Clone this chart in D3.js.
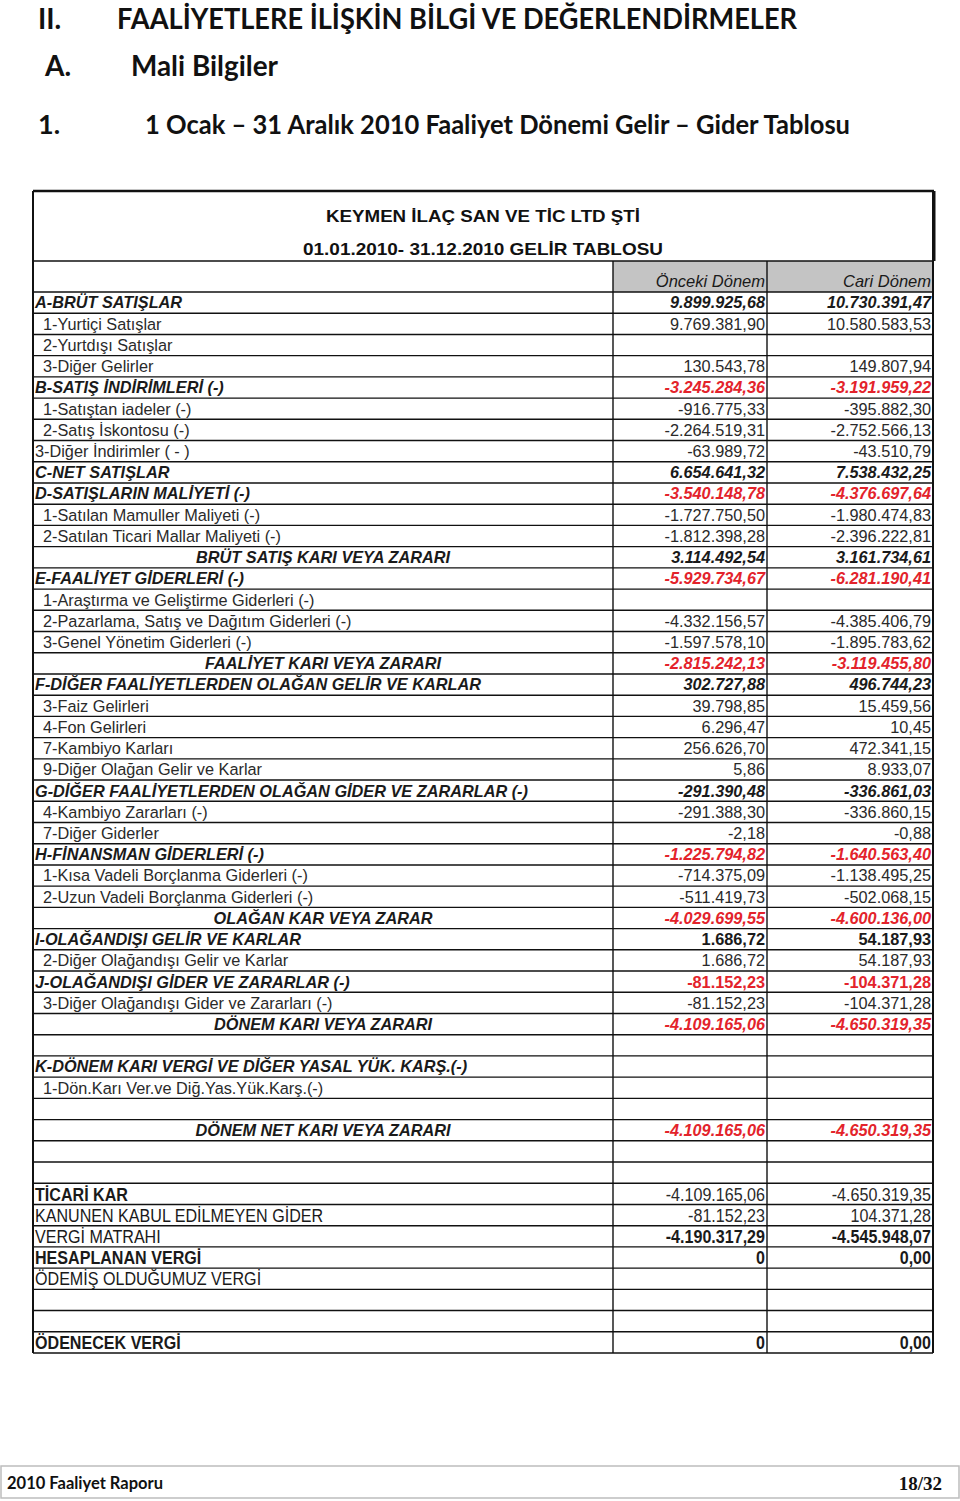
<!DOCTYPE html>
<html>
<head>
<meta charset="utf-8">
<script src="https://cdn.jsdelivr.net/npm/d3@7"></script>
<style>
  body { margin: 0; background: #fff; }
  svg { display: block; }
</style>
</head>
<body>
<div id="page"></div>
<script>
const FRAME_WIDTH = 960;
const FRAME_HEIGHT = 1501;

// table rows (label column)
const LABELS = [
  "A-BRÜT SATIŞLAR", "1-Yurtiçi Satışlar", "2-Yurtdışı Satışlar", "3-Diğer Gelirler",
  "B-SATIŞ İNDİRİMLERİ (-)", "1-Satıştan iadeler (-)", "2-Satış İskontosu (-)", "3-Diğer İndirimler ( - )",
  "C-NET SATIŞLAR", "D-SATIŞLARIN MALİYETİ (-)", "1-Satılan Mamuller Maliyeti (-)",
  "2-Satılan Ticari Mallar Maliyeti (-)", "BRÜT SATIŞ KARI VEYA ZARARI", "E-FAALİYET GİDERLERİ (-)",
  "1-Araştırma ve Geliştirme Giderleri (-)", "2-Pazarlama, Satış ve Dağıtım Giderleri (-)",
  "3-Genel Yönetim Giderleri (-)", "FAALİYET KARI VEYA ZARARI",
  "F-DİĞER FAALİYETLERDEN OLAĞAN GELİR VE KARLAR", "3-Faiz Gelirleri", "4-Fon Gelirleri",
  "7-Kambiyo Karları", "9-Diğer Olağan Gelir ve Karlar",
  "G-DİĞER FAALİYETLERDEN OLAĞAN GİDER VE ZARARLAR (-)", "4-Kambiyo Zararları (-)", "7-Diğer Giderler",
  "H-FİNANSMAN GİDERLERİ (-)", "1-Kısa Vadeli Borçlanma Giderleri (-)",
  "2-Uzun Vadeli Borçlanma Giderleri (-)", "OLAĞAN KAR VEYA ZARAR", "I-OLAĞANDIŞI GELİR VE KARLAR",
  "2-Diğer Olağandışı Gelir ve Karlar", "J-OLAĞANDIŞI GİDER VE ZARARLAR (-)",
  "3-Diğer Olağandışı Gider ve Zararları (-)", "DÖNEM KARI VEYA ZARARI", "",
  "K-DÖNEM KARI VERGİ VE DİĞER YASAL YÜK. KARŞ.(-)", "1-Dön.Karı Ver.ve Diğ.Yas.Yük.Karş.(-)", "",
  "DÖNEM NET KARI VEYA ZARARI", "", "",
  "TİCARİ KAR", "KANUNEN KABUL EDİLMEYEN GİDER", "VERGİ MATRAHI", "HESAPLANAN VERGİ",
  "ÖDEMİŞ OLDUĞUMUZ VERGİ", "", "", "ÖDENECEK VERGİ"
];

// s = section, i = indented item, n = item, t = centred total, e = empty, x = tax row, xb = bold tax row
const KINDS = [
  "s", "i", "i", "i", "s", "i", "i", "n", "s", "s", "i", "i", "t", "s", "i", "i", "i", "t",
  "s", "i", "i", "i", "i", "s", "i", "i", "s", "i", "i", "t", "s", "i", "s", "i", "t", "e",
  "s", "i", "e", "t", "e", "e", "xb", "x", "x", "xb", "x", "e", "e", "xb"
];

const ONCEKI = [
  "9.899.925,68", "9.769.381,90", "", "130.543,78", "-3.245.284,36", "-916.775,33", "-2.264.519,31",
  "-63.989,72", "6.654.641,32", "-3.540.148,78", "-1.727.750,50", "-1.812.398,28", "3.114.492,54",
  "-5.929.734,67", "", "-4.332.156,57", "-1.597.578,10", "-2.815.242,13", "302.727,88", "39.798,85",
  "6.296,47", "256.626,70", "5,86", "-291.390,48", "-291.388,30", "-2,18", "-1.225.794,82",
  "-714.375,09", "-511.419,73", "-4.029.699,55", "1.686,72", "1.686,72", "-81.152,23", "-81.152,23",
  "-4.109.165,06", "", "", "", "", "-4.109.165,06", "", "",
  "-4.109.165,06", "-81.152,23", "-4.190.317,29", "0", "", "", "", "0"
];

const CARI = [
  "10.730.391,47", "10.580.583,53", "", "149.807,94", "-3.191.959,22", "-395.882,30", "-2.752.566,13",
  "-43.510,79", "7.538.432,25", "-4.376.697,64", "-1.980.474,83", "-2.396.222,81", "3.161.734,61",
  "-6.281.190,41", "", "-4.385.406,79", "-1.895.783,62", "-3.119.455,80", "496.744,23", "15.459,56",
  "10,45", "472.341,15", "8.933,07", "-336.861,03", "-336.860,15", "-0,88", "-1.640.563,40",
  "-1.138.495,25", "-502.068,15", "-4.600.136,00", "54.187,93", "54.187,93", "-104.371,28", "-104.371,28",
  "-4.650.319,35", "", "", "", "", "-4.650.319,35", "", "",
  "-4.650.319,35", "104.371,28", "-4.545.948,07", "0,00", "", "", "", "0,00"
];

// value styling per row: bi = bold italic, b = bold, n = normal
const VALUE_STYLE = [
  "bi", "n", "n", "n", "bi", "n", "n", "n", "bi", "bi", "n", "n", "bi", "bi", "n", "n", "n", "bi",
  "bi", "n", "n", "n", "n", "bi", "n", "n", "bi", "n", "n", "bi", "b", "n", "b", "n", "bi", "n",
  "n", "n", "n", "bi", "n", "n", "n", "n", "b", "b", "n", "n", "n", "b"
];

const RED_ROWS = [
  "B-SATIŞ İNDİRİMLERİ (-)", "D-SATIŞLARIN MALİYETİ (-)", "E-FAALİYET GİDERLERİ (-)",
  "FAALİYET KARI VEYA ZARARI", "H-FİNANSMAN GİDERLERİ (-)", "OLAĞAN KAR VEYA ZARAR",
  "J-OLAĞANDIŞI GİDER VE ZARARLAR (-)", "DÖNEM KARI VEYA ZARARI", "DÖNEM NET KARI VEYA ZARARI"
];

const COLUMNS = ["", "Önceki Dönem", "Cari Dönem"];

const rows = LABELS.map((d, i) => ({
  label: d, kind: KINDS[i], values: [ONCEKI[i], CARI[i]],
  style: VALUE_STYLE[i], red: RED_ROWS.includes(d)
}));

const RED = "#e3232b";
const INK = "#1a1a1a";
const BODY_FONT = "'Liberation Sans', Arial, sans-serif";
const NARROW = 0.87;   // squeeze for the narrow tax block

const svg = d3.select("#page").append("svg")
  .attr("width", FRAME_WIDTH).attr("height", FRAME_HEIGHT);

// page headings
const headings = [
  {num: "II.", text: "FAALİYETLERE İLİŞKİN BİLGİ VE DEĞERLENDİRMELER", nx: 38, tx: 117, y: 29, size: 28, len: 680},
  {num: "A.", text: "Mali Bilgiler", nx: 45, tx: 131, y: 76, size: 28, len: 147},
  {num: "1.", text: "1 Ocak – 31 Aralık 2010 Faaliyet Dönemi Gelir – Gider Tablosu", nx: 38, tx: 145, y: 134, size: 27, len: 705}
];
const hg = svg.append("g").attr("font-family", "Lato, 'Open Sans', sans-serif").attr("font-weight", "bold").attr("fill", "#111");
headings.forEach(h => {
  hg.append("text").attr("x", h.nx).attr("y", h.y).attr("font-size", h.size).text(h.num);
  hg.append("text").attr("x", h.tx).attr("y", h.y).attr("font-size", h.size)
    .attr("textLength", h.len).attr("lengthAdjust", "spacingAndGlyphs").text(h.text);
});

// table geometry
const TABLE_LEFT = 33, TABLE_RIGHT = 933;
const TITLE_TOP = 191, HEAD_TOP = 261, BODY_TOP = 292, BODY_BOTTOM = 1353;
const colEdges = [TABLE_LEFT, 613, 767, TABLE_RIGHT];

const X_SCALE = d3.scaleOrdinal().domain([0, 1, 2]).range(colEdges.slice(0, 3));
const colWidth = i => colEdges[i + 1] - colEdges[i];

const Y_SCALE = d3.scaleBand()
  .domain(d3.range(rows.length))
  .range([BODY_TOP, BODY_BOTTOM]);

// header gray cells
svg.selectAll("rect.head")
  .data([1, 2])
  .enter().append("rect")
    .attr("x", d => X_SCALE(d))
    .attr("y", HEAD_TOP)
    .attr("width", d => colWidth(d))
    .attr("height", BODY_TOP - HEAD_TOP)
    .attr("fill", "#c4c4c4");

svg.selectAll("text.head")
  .data([1, 2])
  .enter().append("text")
    .attr("x", d => X_SCALE(d) + colWidth(d) - 2)
    .attr("y", BODY_TOP - 5)
    .attr("text-anchor", "end")
    .attr("font-family", BODY_FONT)
    .attr("font-style", "italic")
    .attr("font-size", 16.5)
    .attr("fill", INK)
    .text(d => COLUMNS[d]);

// title block
const titleG = svg.append("g")
  .attr("font-family", BODY_FONT)
  .attr("font-weight", "bold").attr("text-anchor", "middle").attr("fill", "#111");
titleG.append("text").attr("x", 483).attr("y", 222).attr("font-size", 16.5)
  .attr("textLength", 314).attr("lengthAdjust", "spacingAndGlyphs").text("KEYMEN İLAÇ SAN VE TİC LTD ŞTİ");
titleG.append("text").attr("x", 483).attr("y", 255).attr("font-size", 16.5)
  .attr("textLength", 360).attr("lengthAdjust", "spacingAndGlyphs").text("01.01.2010- 31.12.2010 GELİR TABLOSU");

// grid lines
const grid = svg.append("g").attr("stroke", "#111").attr("stroke-width", 1.4);
const hLines = [HEAD_TOP].concat(d3.range(rows.length).map(i => Y_SCALE(i)), [BODY_BOTTOM]);
grid.selectAll("line.h")
  .data(hLines)
  .enter().append("line")
    .attr("x1", TABLE_LEFT).attr("x2", TABLE_RIGHT)
    .attr("y1", d => d).attr("y2", d => d);
grid.selectAll("line.v")
  .data(colEdges)
  .enter().append("line")
    .attr("x1", d => d).attr("x2", d => d)
    .attr("y1", (d, i) => (i === 0 || i === 3) ? TITLE_TOP : HEAD_TOP)
    .attr("y2", BODY_BOTTOM)
    .attr("stroke-width", (d, i) => (i === 0 || i === 3) ? 2 : 1.4);
grid.append("line")
  .attr("x1", TABLE_LEFT).attr("x2", TABLE_RIGHT + 1)
  .attr("y1", TITLE_TOP).attr("y2", TITLE_TOP)
  .attr("stroke-width", 2.5);
grid.append("line")
  .attr("x1", TABLE_RIGHT + 1.5).attr("x2", TABLE_RIGHT + 1.5)
  .attr("y1", TITLE_TOP).attr("y2", HEAD_TOP)
  .attr("stroke-width", 2);

// row labels
const mid = i => Y_SCALE(i) + Y_SCALE.bandwidth() / 2;
const isTax = k => k === "x" || k === "xb";

const labelX = d => d.kind === "t" ? X_SCALE(0) + colWidth(0) / 2 : X_SCALE(0) + (d.kind === "i" ? 10 : 2);

svg.selectAll("text.label")
  .data(rows)
  .enter().append("text")
    .attr("class", "label")
    .attr("transform", (d, i) => "translate(" + labelX(d) + "," + mid(i) + ")" +
      (isTax(d.kind) ? " scale(" + NARROW + ",1)" : ""))
    .attr("dy", "0.36em")
    .attr("text-anchor", d => d.kind === "t" ? "middle" : "start")
    .attr("font-family", BODY_FONT)
    .attr("font-size", d => isTax(d.kind) ? 18.5 : 16.3)
    .attr("font-weight", d => (d.kind === "s" || d.kind === "t" || d.kind === "xb") ? "bold" : "normal")
    .attr("font-style", d => (d.kind === "s" || d.kind === "t") ? "italic" : "normal")
    .attr("fill", d => (d.kind === "i" || d.kind === "n") ? "#2a2a2a" : INK)
    .text(d => d.label);

// value cells
const cells = [];
rows.forEach((r, i) => r.values.forEach((v, j) => {
  if (v !== "") cells.push({row: i, col: j + 1, value: v, r: r});
}));

svg.selectAll("text.value")
  .data(cells)
  .enter().append("text")
    .attr("class", "value")
    .attr("transform", d => "translate(" + (X_SCALE(d.col) + colWidth(d.col) - 2) + "," + mid(d.row) + ")" +
      (isTax(d.r.kind) ? " scale(" + NARROW + ",1)" : ""))
    .attr("dy", "0.36em")
    .attr("text-anchor", "end")
    .attr("font-family", BODY_FONT)
    .attr("font-size", d => isTax(d.r.kind) ? 18.5 : 16.3)
    .attr("font-weight", d => d.r.style === "n" ? "normal" : "bold")
    .attr("font-style", d => d.r.style === "bi" ? "italic" : "normal")
    .attr("fill", d => d.r.red ? RED : (d.r.style === "n" ? "#2a2a2a" : INK))
    .text(d => d.value);

// footer
svg.append("rect")
  .attr("x", 1).attr("y", 1466).attr("width", FRAME_WIDTH - 2).attr("height", 32)
  .attr("fill", "none").attr("stroke", "#bdbdbd").attr("stroke-width", 1.5);
svg.append("text")
  .attr("x", 7).attr("y", 1489)
  .attr("font-family", "Lato, 'Open Sans', sans-serif").attr("font-weight", "bold")
  .attr("font-size", 16.5).attr("fill", "#111")
  .text("2010 Faaliyet Raporu");
svg.append("text")
  .attr("x", 942).attr("y", 1490).attr("text-anchor", "end")
  .attr("font-family", "'Liberation Serif', 'DejaVu Serif', serif").attr("font-weight", "bold")
  .attr("font-size", 19).attr("fill", "#111")
  .text("18/32");
</script>
</body>
</html>
